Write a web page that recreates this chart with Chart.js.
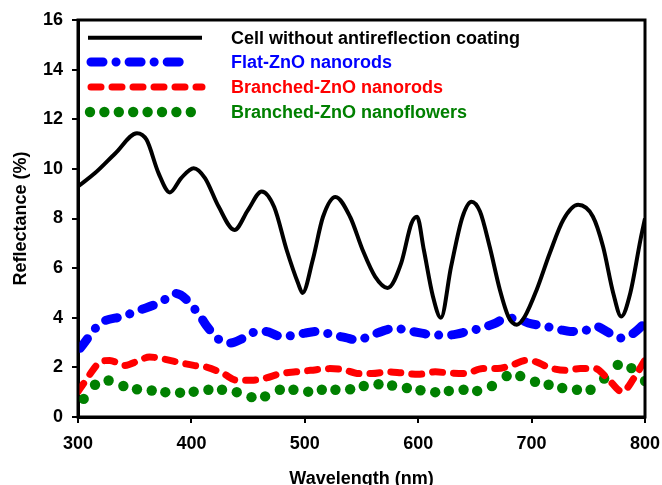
<!DOCTYPE html>
<html>
<head>
<meta charset="utf-8">
<script src="https://cdn.jsdelivr.net/npm/chart.js@4/dist/chart.umd.min.js"></script>
<style>
  html, body { margin: 0; padding: 0; background: #fff; }
  #wrap { width: 662px; height: 485px; position: relative; }
</style>
</head>
<body>
<div id="wrap"><canvas id="reflChart" width="662" height="485"></canvas></div>
<script>
// Reflectance spectra
const xTicks = [300, 400, 500, 600, 700, 800];
const yTicks = [0, 2, 4, 6, 8, 10, 12, 14, 16];

const seriesNames = ['Cell without antireflection coating', 'Flat-ZnO nanorods', 'Branched-ZnO nanorods', 'Branched-ZnO nanoflowers'];
const seriesColors = ['#000000', '#0000ff', '#ff0000', '#008000'];

// Cell without antireflection coating
const bareX = [300, 315, 333, 352, 360.5, 371, 381, 391, 402, 412, 424, 438, 450, 462, 473, 484, 494, 498, 507, 516, 527, 540, 551, 562, 573, 585, 594, 599, 605, 613, 620, 629, 639, 647, 654.5, 663, 672, 679.5, 687, 694, 704.5, 716, 728, 741, 754, 763, 772, 779, 787, 796, 800];
const bareY = [9.29, 9.83, 10.63, 11.44, 11.17, 9.83, 9.05, 9.63, 10.03, 9.63, 8.48, 7.54, 8.35, 9.09, 8.46, 6.73, 5.4, 5.0, 6.33, 8.06, 8.87, 8.06, 6.73, 5.66, 5.2, 6.2, 7.8, 8.07, 6.73, 4.86, 4.0, 6.06, 8.06, 8.68, 8.28, 6.87, 5.13, 4.05, 3.72, 4.05, 5.13, 6.6, 7.95, 8.55, 8.08, 6.87, 4.99, 4.05, 4.99, 7.14, 8.0];

// Flat-ZnO nanorods
const flatX = [302, 320, 339, 354, 373, 386, 406, 413, 425, 434, 446, 458, 465, 479, 492, 500, 512, 525, 536, 546, 559, 568, 579, 592, 603, 613, 626, 644, 655, 668, 678, 690, 697, 713, 725, 734, 744, 757, 766, 778, 790, 800];
const flatY = [2.77, 3.78, 4.05, 4.3, 4.63, 4.98, 4.18, 3.7, 3.1, 2.98, 3.18, 3.45, 3.45, 3.25, 3.3, 3.38, 3.45, 3.3, 3.2, 3.1, 3.3, 3.45, 3.58, 3.47, 3.38, 3.3, 3.3, 3.45, 3.58, 3.78, 3.99, 3.92, 3.79, 3.65, 3.52, 3.45, 3.45, 3.65, 3.45, 3.18, 3.38, 3.79];

// Branched-ZnO nanorods
const rodsX = [300, 306, 320, 328, 341, 354, 363, 374, 387, 402, 414, 428, 440, 453, 464, 479, 492, 505, 522, 533, 548, 559, 574, 585, 600, 615, 626, 641, 657, 670, 682, 695, 704, 715, 730, 743, 756, 767, 780, 790, 800];
const rodsY = [1.02, 1.42, 2.22, 2.28, 2.08, 2.28, 2.42, 2.35, 2.22, 2.08, 2.0, 1.75, 1.48, 1.48, 1.55, 1.75, 1.82, 1.88, 1.95, 1.92, 1.75, 1.75, 1.82, 1.78, 1.72, 1.82, 1.78, 1.75, 1.95, 1.95, 2.08, 2.28, 2.22, 2.0, 1.88, 1.95, 1.95, 1.55, 1.02, 1.55, 2.3];

// Branched-ZnO nanoflowers
const flowX = [305, 315, 327, 340, 352, 365, 377, 390, 402, 415, 427, 440, 453, 465, 478, 490, 503, 515, 527, 540, 552, 565, 577, 590, 602, 615, 627, 640, 652, 665, 678, 690, 703, 715, 727, 740, 752, 764, 776, 788, 800];
const flowY = [0.73, 1.3, 1.47, 1.25, 1.12, 1.07, 1.0, 0.98, 1.02, 1.1, 1.1, 1.0, 0.8, 0.83, 1.1, 1.1, 1.02, 1.1, 1.1, 1.12, 1.25, 1.32, 1.27, 1.17, 1.08, 1.0, 1.05, 1.1, 1.05, 1.25, 1.65, 1.65, 1.42, 1.3, 1.17, 1.1, 1.1, 1.55, 2.1, 1.97, 1.45];

function toPoints(xs, ys) {
    return xs.map((x, i) => ({ x: x, y: ys[i] }));
}

// Gaya garis, dipakai juga untuk legenda
const lineStyles = [
    { width: 4, dash: [] },
    { width: 9, dash: [12, 13, 0.1, 13] },
    { width: 7, dash: [10, 11] },
    { width: 0, dash: [], dots: true }
];

const FONT = 'bold 18px "Liberation Sans", Arial, sans-serif';

// Bingkai, judul sumbu dan legenda digambar manual
const framePlugin = {
    id: 'framePlugin',
    afterDraw(chart) {
        const ctx = chart.ctx;
        const a = chart.chartArea;
        ctx.save();
        ctx.strokeStyle = '#000';
        ctx.lineWidth = 3;
        ctx.strokeRect(a.left, a.top, a.right - a.left, a.bottom - a.top);

        ctx.fillStyle = '#000';
        ctx.font = FONT;
        ctx.textAlign = 'center';
        ctx.textBaseline = 'alphabetic';
        ctx.fillText('Wavelength (nm)', (a.left + a.right) / 2, 484);
        ctx.save();
        ctx.translate(26, (a.top + a.bottom) / 2);
        ctx.rotate(-Math.PI / 2);
        ctx.fillText('Reflectance (%)', 0, 0);
        ctx.restore();

        // legenda
        const x0 = 88, x1 = 198, textX = 231;
        const rows = [37.7, 62, 87, 112];
        ctx.textAlign = 'left';
        ctx.textBaseline = 'middle';
        seriesNames.forEach((name, i) => {
            const y = rows[i];
            const st = lineStyles[i];
            ctx.strokeStyle = seriesColors[i];
            ctx.fillStyle = seriesColors[i];
            if (st.dots) {
                for (let k = 0; k < 8; k++) {
                    ctx.beginPath();
                    ctx.arc(x0 + 2 + k * 14.4, y, 5.2, 0, Math.PI * 2);
                    ctx.fill();
                }
            } else {
                ctx.lineWidth = st.width;
                ctx.lineCap = st.dash.length ? 'round' : 'butt';
                ctx.setLineDash(st.dash);
                ctx.beginPath();
                ctx.moveTo(x0 + (st.dash.length ? 3 : 0), y);
                ctx.lineTo(i === 1 ? 192 : x1 + 4, y);
                ctx.stroke();
                ctx.setLineDash([]);
            }
            ctx.fillText(name, textX, y + 1);
        });
        ctx.restore();
    }
};

new Chart(document.getElementById('reflChart'), {
    type: 'scatter',
    data: {
        datasets: [
            { label: seriesNames[0], data: toPoints(bareX, bareY), showLine: true, borderColor: seriesColors[0], borderWidth: lineStyles[0].width, pointRadius: 0, tension: 0.4, cubicInterpolationMode: 'monotone' },
            { label: seriesNames[1], data: toPoints(flatX, flatY), showLine: true, borderColor: seriesColors[1], borderWidth: lineStyles[1].width, borderDash: lineStyles[1].dash, borderCapStyle: 'round', pointRadius: 0, tension: 0.4, cubicInterpolationMode: 'monotone' },
            { label: seriesNames[2], data: toPoints(rodsX, rodsY), showLine: true, borderColor: seriesColors[2], borderWidth: lineStyles[2].width, borderDash: lineStyles[2].dash, borderCapStyle: 'round', pointRadius: 0, tension: 0.4, cubicInterpolationMode: 'monotone' },
            { label: seriesNames[3], data: toPoints(flowX, flowY), showLine: false, pointRadius: 5.2, pointBackgroundColor: seriesColors[3], pointBorderWidth: 0, borderColor: seriesColors[3] }
        ]
    },
    options: {
        responsive: false,
        animation: false,
        layout: { padding: { left: 0, top: 20, right: 17, bottom: 0 } },
        plugins: {
            legend: { display: false },
            tooltip: { enabled: false }
        },
        scales: {
            x: {
                type: 'linear', min: 300, max: 800,
                afterBuildTicks: (s) => { s.ticks = xTicks.map(v => ({ value: v })); },
                afterFit: (s) => { s.height = 68; s.paddingLeft = 0; s.paddingRight = 0; },
                ticks: { color: '#000', font: { family: '"Liberation Sans", Arial, sans-serif', size: 18, weight: 'bold' }, padding: 10, maxRotation: 0 },
                grid: { display: true, drawOnChartArea: false, drawTicks: true, tickLength: 6, color: '#000', lineWidth: 2 },
                border: { display: true, color: '#000', width: 3 }
            },
            y: {
                min: 0, max: 16,
                afterBuildTicks: (s) => { s.ticks = yTicks.map(v => ({ value: v })); },
                afterFit: (s) => { s.width = 78; s.paddingTop = 0; s.paddingBottom = 0; },
                ticks: { color: '#000', font: { family: '"Liberation Sans", Arial, sans-serif', size: 18, weight: 'bold' }, padding: 9 },
                grid: { display: true, drawOnChartArea: false, drawTicks: true, tickLength: 6, color: '#000', lineWidth: 2 },
                border: { display: true, color: '#000', width: 3 }
            }
        }
    },
    plugins: [framePlugin]
});
</script>
</body>
</html>
